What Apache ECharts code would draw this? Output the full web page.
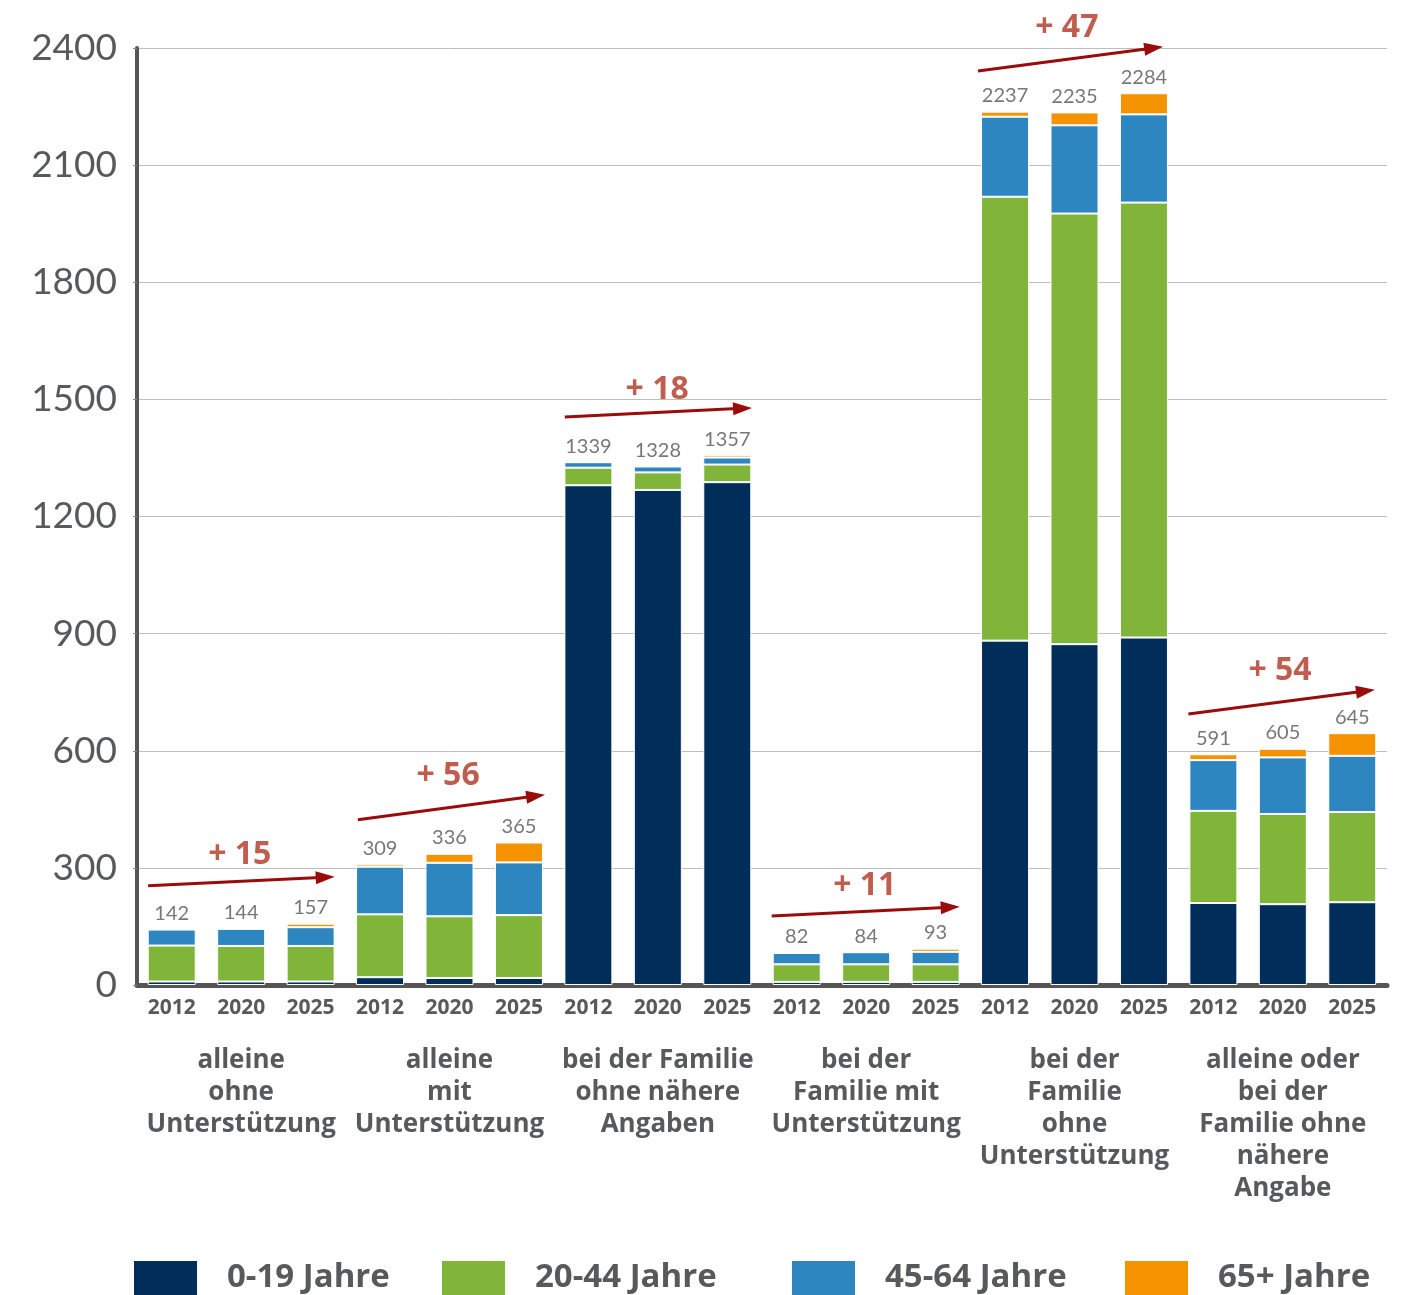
<!DOCTYPE html>
<html>
<head>
<meta charset="utf-8">
<script src="https://cdn.jsdelivr.net/npm/echarts@6/dist/echarts.min.js"></script>
<style>
html,body{margin:0;padding:0;background:#fff;}
#chart{width:1402px;height:1295px;}
</style>
</head>
<body>
<div id="chart"></div>
<script>
const years = ['2012','2020','2025','2012','2020','2025','2012','2020','2025','2012','2020','2025','2012','2020','2025','2012','2020','2025'];
const groups = [
  'alleine\nohne\nUnterstützung',
  'alleine\nmit\nUnterstützung',
  'bei der Familie\nohne nähere\nAngaben',
  'bei der\nFamilie mit\nUnterstützung',
  'bei der\nFamilie\nohne\nUnterstützung',
  'alleine oder\nbei der\nFamilie ohne\nnähere\nAngabe'
];
const seriesNames = ['0-19 Jahre','20-44 Jahre','45-64 Jahre','65+ Jahre'];
const age0_19  = [9,9,9, 20,18,18, 1280,1268,1288, 8,8,8, 882,873,890, 210,207,212];
const age20_44 = [92,91,91, 161,158,161, 45,45,45, 45,45,45, 1137,1103,1114, 236,231,231];
const age45_64 = [41,44,48, 122,137,135, 14,15,18, 29,31,32, 205,226,226, 130,145,144];
const age65    = [0,0,9, 6,23,51, 0,0,6, 0,0,8, 13,33,54, 15,22,58];
const totals   = [142,144,157, 309,336,365, 1339,1328,1357, 82,84,93, 2237,2235,2284, 591,605,645];
const yTicks = [0,300,600,900,1200,1500,1800,2100,2400];
const changeLabels = ['+ 15','+ 56','+ 18','+ 11','+ 47','+ 54'];
// annotation anchors in data space: x = bar index, y = value
const arrowStart = [[-0.34,254],[2.68,423],[5.66,1455],[8.64,177],[11.61,2341],[14.64,694]];
const arrowEnd   = [[2.21,276],[5.24,484],[8.22,1477],[11.21,199],[14.14,2400],[17.19,753]];
const labelAt    = [[0.98,333],[3.98,535],[6.99,1524],[9.98,254],[12.89,2451],[15.96,804]];

const colors = ['#012d5a','#80b53a','#2d86bf','#f59200'];
const legendLeft = [134,442,792,1125];
const txt = '#58595b';
const font = 'Lato, "Open Sans", sans-serif';
const boldFont = '"Open Sans", Lato, sans-serif';

const chart = echarts.init(document.getElementById('chart'), null, {renderer:'canvas'});
const segData = [age0_19, age20_44, age45_64, age65];
const barSeries = segData.map((d,i)=>({
  name: seriesNames[i], type:'bar', stack:'total', xAxisIndex:0, yAxisIndex:0,
  barWidth:48, data:d,
  itemStyle:{color:colors[i], borderColor:'#ffffff', borderWidth:1},
  emphasis:{disabled:true}
}));

const option = {
  animation:false,
  color: colors,
  grid:{left:137,right:15,top:48,bottom:310,outerBoundsMode:'none',containLabel:false},
  legend: seriesNames.map((n,i)=>({
    data:[n], left:legendLeft[i], top:1261, icon:'rect', padding:0,
    itemWidth:63, itemHeight:34, itemGap:0, selectedMode:false,
    itemStyle:{borderWidth:0},
    textStyle:{fontFamily:boldFont,fontSize:33,fontWeight:'bold',color:txt,padding:[0,0,0,25]}
  })),
  xAxis:[
    {type:'category', data:years, position:'bottom',
     axisLine:{show:true,onZero:false,lineStyle:{color:'#555',width:5}},
     axisTick:{show:false},
     axisLabel:{fontFamily:boldFont,fontSize:21,fontWeight:'bold',color:txt,margin:13,interval:0},
     splitLine:{show:false}},
    {type:'value', min:-0.5, max:17.5, show:false, axisLine:{onZero:false}},
    {type:'category', data:groups, position:'bottom',
     axisLine:{show:false,onZero:false}, axisTick:{show:false}, splitLine:{show:false},
     axisLabel:{fontFamily:boldFont,fontSize:26,fontWeight:'bold',color:txt,margin:60,lineHeight:32,interval:0}}
  ],
  yAxis:{
    type:'value', min:0, max:2400, interval:300,
    axisLine:{show:true,onZero:false,lineStyle:{color:'#555',width:4}},
    axisTick:{show:true,length:4,lineStyle:{color:'#888'}},
    axisLabel:{fontFamily:font,fontSize:37,color:txt,margin:20,
      formatter:(v)=>yTicks.includes(v)?String(v):''},
    splitLine:{show:true,lineStyle:{color:'#bdbdbd',width:1}}
  },
  series: barSeries.concat([
    {
      name:'totals', type:'scatter', xAxisIndex:0, yAxisIndex:0, clip:false,
      symbolSize:0, data:totals, silent:true,
      label:{show:true,position:'top',distance:6,fontFamily:font,fontSize:20,color:'#555555',
        formatter:(p)=>String(p.value)}
    },
    {
      name:'changes', type:'scatter', xAxisIndex:1, yAxisIndex:0, clip:false,
      symbolSize:0, silent:true,
      data: labelAt.map((p,i)=>({value:[p[0],p[1]], name:changeLabels[i]})),
      label:{show:true,position:'inside',fontFamily:boldFont,fontSize:32,fontWeight:'bold',color:'#b03523',
        formatter:(p)=>p.name},
      markLine:{
        silent:true, symbol:['none','triangle'], symbolSize:[13,19],
        lineStyle:{color:'#9a0b0b',width:3,type:'solid'},
        itemStyle:{color:'#9a0b0b'},
        label:{show:false},
        data: arrowStart.map((s,i)=>[{coord:s},{coord:arrowEnd[i]}])
      }
    }
  ])
};
chart.setOption(option);
</script>
</body>
</html>
